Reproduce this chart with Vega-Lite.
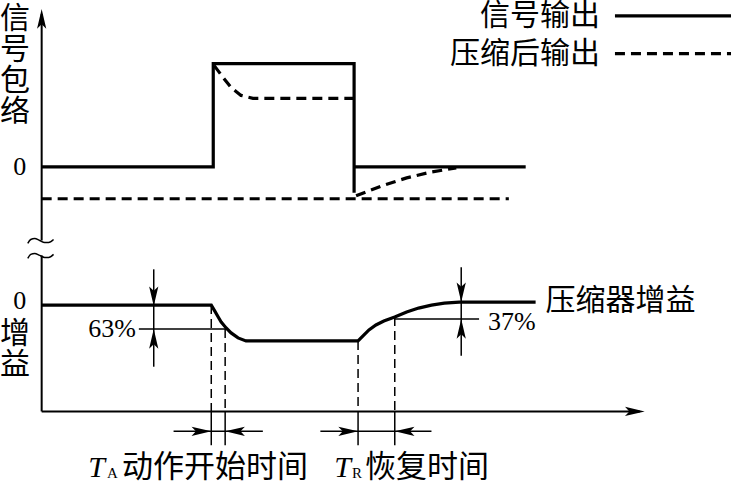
{
  "$schema": "https://vega.github.io/schema/vega-lite/v6.json",
  "width": 738,
  "height": 483,
  "autosize": {"type": "fit", "contains": "padding"},
  "padding": 0,
  "background": "white",
  "config": {"view": {"stroke": null}},
  "datasets": {
    "thick": [
      {"id": "signal", "k": 0, "t": 0, "lvl": 246},
      {"id": "signal", "k": 1, "t": 173, "lvl": 246},
      {"id": "signal", "k": 2, "t": 173, "lvl": 350},
      {"id": "signal", "k": 3, "t": 315, "lvl": 350},
      {"id": "signal", "k": 4, "t": 315, "lvl": 220},
      {"id": "signal2", "k": 0, "t": 315, "lvl": 246},
      {"id": "signal2", "k": 1, "t": 488, "lvl": 246},
      {"id": "gain", "k": 0, "t": 0, "lvl": 107},
      {"id": "gain", "k": 1, "t": 171, "lvl": 107},
      {"id": "gain", "k": 2, "t": 174, "lvl": 102},
      {"id": "gain", "k": 3, "t": 178, "lvl": 95},
      {"id": "gain", "k": 4, "t": 181, "lvl": 90},
      {"id": "gain", "k": 5, "t": 186, "lvl": 84},
      {"id": "gain", "k": 6, "t": 191, "lvl": 79},
      {"id": "gain", "k": 7, "t": 198, "lvl": 74},
      {"id": "gain", "k": 8, "t": 206, "lvl": 71},
      {"id": "gain", "k": 9, "t": 319, "lvl": 71},
      {"id": "gain", "k": 10, "t": 324, "lvl": 76},
      {"id": "gain", "k": 11, "t": 330, "lvl": 82},
      {"id": "gain", "k": 12, "t": 337, "lvl": 87},
      {"id": "gain", "k": 13, "t": 345, "lvl": 91},
      {"id": "gain", "k": 14, "t": 356, "lvl": 95},
      {"id": "gain", "k": 15, "t": 368, "lvl": 100},
      {"id": "gain", "k": 16, "t": 380, "lvl": 104},
      {"id": "gain", "k": 17, "t": 393, "lvl": 107},
      {"id": "gain", "k": 18, "t": 406, "lvl": 109},
      {"id": "gain", "k": 19, "t": 421, "lvl": 110},
      {"id": "gain", "k": 20, "t": 498, "lvl": 110},
      {"id": "legendSolid", "k": 0, "t": 578, "lvl": 398},
      {"id": "legendSolid", "k": 1, "t": 695, "lvl": 398}
    ],
    "thickDash": [
      {"id": "comp", "k": 0, "t": 174, "lvl": 348},
      {"id": "comp", "k": 1, "t": 183, "lvl": 336},
      {"id": "comp", "k": 2, "t": 191, "lvl": 326},
      {"id": "comp", "k": 3, "t": 201, "lvl": 318},
      {"id": "comp", "k": 4, "t": 213, "lvl": 315},
      {"id": "comp", "k": 5, "t": 315, "lvl": 315},
      {"id": "base", "k": 0, "t": 0, "lvl": 214},
      {"id": "base", "k": 1, "t": 471, "lvl": 214},
      {"id": "recover", "k": 0, "t": 317, "lvl": 217},
      {"id": "recover", "k": 1, "t": 343, "lvl": 227},
      {"id": "recover", "k": 2, "t": 368, "lvl": 235},
      {"id": "recover", "k": 3, "t": 393, "lvl": 241},
      {"id": "recover", "k": 4, "t": 418, "lvl": 245},
      {"id": "legendDash", "k": 0, "t": 578, "lvl": 360},
      {"id": "legendDash", "k": 1, "t": 695, "lvl": 360}
    ],
    "axes": [
      {"id": "yTop", "k": 0, "t": 0, "lvl": 400},
      {"id": "yTop", "k": 1, "t": 0, "lvl": 172},
      {"id": "yBottom", "k": 0, "t": 0, "lvl": 157},
      {"id": "yBottom", "k": 1, "t": 0, "lvl": 0},
      {"id": "xAxis", "k": 0, "t": 0, "lvl": 0},
      {"id": "xAxis", "k": 1, "t": 603, "lvl": 0}
    ],
    "guides": [
      {"id": "d63v", "k": 0, "t": 113, "lvl": 143},
      {"id": "d63v", "k": 1, "t": 113, "lvl": 45},
      {"id": "d63h", "k": 0, "t": 98, "lvl": 83},
      {"id": "d63h", "k": 1, "t": 186, "lvl": 83},
      {"id": "d37v", "k": 0, "t": 423, "lvl": 145},
      {"id": "d37v", "k": 1, "t": 423, "lvl": 56},
      {"id": "d37h", "k": 0, "t": 356, "lvl": 93},
      {"id": "d37h", "k": 1, "t": 441, "lvl": 93},
      {"id": "ta", "k": 0, "t": 133, "lvl": -20},
      {"id": "ta", "k": 1, "t": 223, "lvl": -20},
      {"id": "tr", "k": 0, "t": 281, "lvl": -20},
      {"id": "tr", "k": 1, "t": 393, "lvl": -20},
      {"id": "v1", "k": 0, "t": 171, "lvl": 0},
      {"id": "v1", "k": 1, "t": 171, "lvl": -34},
      {"id": "v2", "k": 0, "t": 185, "lvl": 0},
      {"id": "v2", "k": 1, "t": 185, "lvl": -34},
      {"id": "v3", "k": 0, "t": 319, "lvl": 0},
      {"id": "v3", "k": 1, "t": 319, "lvl": -34},
      {"id": "v4", "k": 0, "t": 356, "lvl": 0},
      {"id": "v4", "k": 1, "t": 356, "lvl": -34}
    ],
    "guidesDash": [
      {"id": "dv1", "k": 0, "t": 171, "lvl": 107},
      {"id": "dv1", "k": 1, "t": 171, "lvl": 0},
      {"id": "dv2", "k": 0, "t": 185, "lvl": 83},
      {"id": "dv2", "k": 1, "t": 185, "lvl": 0},
      {"id": "dv3", "k": 0, "t": 319, "lvl": 71},
      {"id": "dv3", "k": 1, "t": 319, "lvl": 0},
      {"id": "dv4", "k": 0, "t": 356, "lvl": 95},
      {"id": "dv4", "k": 1, "t": 356, "lvl": 0}
    ],
    "squiggle": [
      {"id": "s1", "k": 0, "t": -14, "lvl": 169},
      {"id": "s1", "k": 1, "t": -11, "lvl": 173},
      {"id": "s1", "k": 2, "t": -7, "lvl": 174},
      {"id": "s1", "k": 3, "t": -2, "lvl": 172},
      {"id": "s1", "k": 4, "t": 3, "lvl": 170},
      {"id": "s1", "k": 5, "t": 7, "lvl": 170},
      {"id": "s1", "k": 6, "t": 12, "lvl": 173},
      {"id": "s2", "k": 0, "t": -14, "lvl": 154},
      {"id": "s2", "k": 1, "t": -11, "lvl": 158},
      {"id": "s2", "k": 2, "t": -7, "lvl": 159},
      {"id": "s2", "k": 3, "t": -2, "lvl": 157},
      {"id": "s2", "k": 4, "t": 3, "lvl": 155},
      {"id": "s2", "k": 5, "t": 7, "lvl": 155},
      {"id": "s2", "k": 6, "t": 12, "lvl": 158}
    ],
    "arrows": [
      {"dir": "up", "t": 0, "lvl": 405},
      {"dir": "up", "t": 113, "lvl": 83},
      {"dir": "up", "t": 423, "lvl": 93},
      {"dir": "down", "t": 113, "lvl": 106},
      {"dir": "down", "t": 423, "lvl": 110},
      {"dir": "right", "t": 608, "lvl": 0},
      {"dir": "right", "t": 171, "lvl": -20},
      {"dir": "right", "t": 319, "lvl": -20},
      {"dir": "left", "t": 185, "lvl": -20},
      {"dir": "left", "t": 356, "lvl": -20}
    ],
    "labels": [
      {"role": "legend", "t": 563, "lvl": 398, "text": "信号输出"},
      {"role": "legend", "t": 563, "lvl": 360, "text": "压缩后输出"},
      {"role": "cjkLeft", "t": 508, "lvl": 111, "text": "压缩器增益"},
      {"role": "cjkBottom", "t": 81, "lvl": -57, "text": "动作开始时间"},
      {"role": "cjkBottom", "t": 326, "lvl": -57, "text": "恢复时间"},
      {"role": "vertical", "t": -27, "lvl": 395, "text": "信\n号\n包\n络"},
      {"role": "vertical", "t": -27, "lvl": 78, "text": "增\n益"},
      {"role": "zero", "t": -22, "lvl": 246, "text": "0"},
      {"role": "zero", "t": -22, "lvl": 111, "text": "0"},
      {"role": "pctRight", "t": 95, "lvl": 83, "text": "63%"},
      {"role": "pctLeft", "t": 450, "lvl": 90, "text": "37%"},
      {"role": "T", "t": 47, "lvl": -57, "text": "T"},
      {"role": "T", "t": 295, "lvl": -57, "text": "T"},
      {"role": "sub", "t": 66, "lvl": -62, "text": "A"},
      {"role": "sub", "t": 313, "lvl": -62, "text": "R"}
    ]
  },
  "encoding": {
    "x": {"field": "t", "type": "quantitative", "scale": {"domain": [-42, 696], "nice": false, "zero": false}, "axis": null},
    "y": {"field": "lvl", "type": "quantitative", "scale": {"domain": [-70, 413], "nice": false, "zero": false}, "axis": null}
  },
  "layer": [
    {
      "data": {"name": "axes"},
      "mark": {"type": "line", "color": "black", "strokeWidth": 2},
      "encoding": {"detail": {"field": "id"}, "order": {"field": "k", "type": "quantitative"}}
    },
    {
      "data": {"name": "guides"},
      "mark": {"type": "line", "color": "black", "strokeWidth": 1.5},
      "encoding": {"detail": {"field": "id"}, "order": {"field": "k", "type": "quantitative"}}
    },
    {
      "data": {"name": "guidesDash"},
      "mark": {"type": "line", "color": "black", "strokeWidth": 1.5, "strokeDash": [9, 5]},
      "encoding": {"detail": {"field": "id"}, "order": {"field": "k", "type": "quantitative"}}
    },
    {
      "data": {"name": "squiggle"},
      "mark": {"type": "line", "color": "black", "strokeWidth": 1.5, "interpolate": "monotone"},
      "encoding": {"detail": {"field": "id"}, "order": {"field": "k", "type": "quantitative"}}
    },
    {
      "data": {"name": "thickDash"},
      "mark": {"type": "line", "color": "black", "strokeWidth": 3.2, "strokeDash": [10, 6]},
      "encoding": {"detail": {"field": "id"}, "order": {"field": "k", "type": "quantitative"}}
    },
    {
      "data": {"name": "thick"},
      "mark": {"type": "line", "color": "black", "strokeWidth": 3.2, "strokeJoin": "miter"},
      "encoding": {"detail": {"field": "id"}, "order": {"field": "k", "type": "quantitative"}}
    },
    {
      "data": {"name": "arrows"},
      "transform": [{"filter": "datum.dir === 'up'"}],
      "mark": {"type": "point", "shape": "M0,0L0.42,1.8L0,1.4L-0.42,1.8Z", "angle": 0, "size": 480, "filled": true, "opacity": 1, "color": "black", "strokeWidth": 0}
    },
    {
      "data": {"name": "arrows"},
      "transform": [{"filter": "datum.dir === 'right'"}],
      "mark": {"type": "point", "shape": "M0,0L0.42,1.8L0,1.4L-0.42,1.8Z", "angle": 90, "size": 480, "filled": true, "opacity": 1, "color": "black", "strokeWidth": 0}
    },
    {
      "data": {"name": "arrows"},
      "transform": [{"filter": "datum.dir === 'down'"}],
      "mark": {"type": "point", "shape": "M0,0L0.42,1.8L0,1.4L-0.42,1.8Z", "angle": 180, "size": 480, "filled": true, "opacity": 1, "color": "black", "strokeWidth": 0}
    },
    {
      "data": {"name": "arrows"},
      "transform": [{"filter": "datum.dir === 'left'"}],
      "mark": {"type": "point", "shape": "M0,0L0.42,1.8L0,1.4L-0.42,1.8Z", "angle": 270, "size": 480, "filled": true, "opacity": 1, "color": "black", "strokeWidth": 0}
    },
    {
      "data": {"name": "labels"},
      "transform": [{"filter": "datum.role === 'legend'"}],
      "mark": {"type": "text", "font": "Noto Sans CJK SC", "fontSize": 30, "align": "right", "baseline": "middle", "color": "black"},
      "encoding": {"text": {"field": "text"}}
    },
    {
      "data": {"name": "labels"},
      "transform": [{"filter": "datum.role === 'cjkLeft'"}],
      "mark": {"type": "text", "font": "Noto Sans CJK SC", "fontSize": 30, "align": "left", "baseline": "middle", "color": "black"},
      "encoding": {"text": {"field": "text"}}
    },
    {
      "data": {"name": "labels"},
      "transform": [{"filter": "datum.role === 'cjkBottom'"}],
      "mark": {"type": "text", "font": "Noto Sans CJK SC", "fontSize": 31, "align": "left", "baseline": "middle", "color": "black"},
      "encoding": {"text": {"field": "text"}}
    },
    {
      "data": {"name": "labels"},
      "transform": [{"filter": "datum.role === 'vertical'"}],
      "mark": {"type": "text", "font": "Noto Sans CJK SC", "fontSize": 30, "align": "center", "baseline": "middle", "lineBreak": "\n", "lineHeight": 31, "color": "black"},
      "encoding": {"text": {"field": "text"}}
    },
    {
      "data": {"name": "labels"},
      "transform": [{"filter": "datum.role === 'zero'"}],
      "mark": {"type": "text", "font": "Liberation Serif", "fontSize": 26, "align": "center", "baseline": "middle", "color": "black"},
      "encoding": {"text": {"field": "text"}}
    },
    {
      "data": {"name": "labels"},
      "transform": [{"filter": "datum.role === 'pctRight'"}],
      "mark": {"type": "text", "font": "Liberation Serif", "fontSize": 26, "align": "right", "baseline": "middle", "color": "black"},
      "encoding": {"text": {"field": "text"}}
    },
    {
      "data": {"name": "labels"},
      "transform": [{"filter": "datum.role === 'pctLeft'"}],
      "mark": {"type": "text", "font": "Liberation Serif", "fontSize": 26, "align": "left", "baseline": "middle", "color": "black"},
      "encoding": {"text": {"field": "text"}}
    },
    {
      "data": {"name": "labels"},
      "transform": [{"filter": "datum.role === 'T'"}],
      "mark": {"type": "text", "font": "Liberation Serif", "fontSize": 30, "fontStyle": "italic", "align": "left", "baseline": "middle", "color": "black"},
      "encoding": {"text": {"field": "text"}}
    },
    {
      "data": {"name": "labels"},
      "transform": [{"filter": "datum.role === 'sub'"}],
      "mark": {"type": "text", "font": "Liberation Serif", "fontSize": 15, "align": "left", "baseline": "middle", "color": "black"},
      "encoding": {"text": {"field": "text"}}
    }
  ]
}
